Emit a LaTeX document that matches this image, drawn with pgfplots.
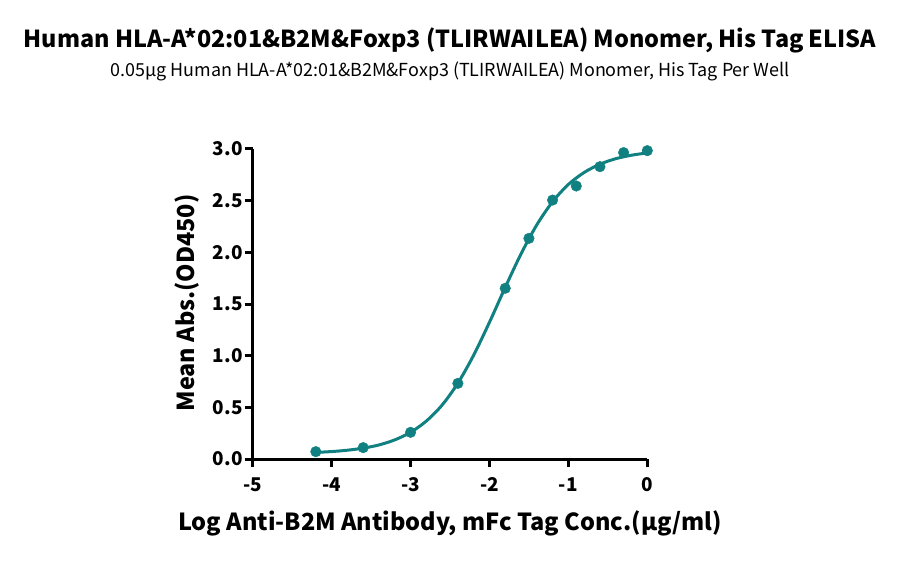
\documentclass[border=0pt]{standalone}
\usepackage{fontspec}
\setmainfont{Noto Sans CJK SC}
\usepackage{pgfplots}
\pgfplotsset{compat=1.18}
\definecolor{teal1}{RGB}{17,128,129}

\begin{document}
\begin{tikzpicture}
  \path[use as bounding box] (-252.7bp,-103bp) rectangle (647.3bp,459bp);
  \begin{axis}[
      at={(0,0)}, anchor=south west,
      scale only axis,
      width=394.6bp, height=310bp,
      xmin=-5, xmax=0, ymin=0, ymax=3,
      axis lines=left,
      axis line style={line width=3bp, -},
      xtick={-5,-4,...,0},
      ytick={0,0.5,...,3},
      yticklabel style={/pgf/number format/fixed, /pgf/number format/fixed zerofill,
        /pgf/number format/precision=1, xshift=1.5bp},
      tick style={line width=3bp, black},
      major tick length=8bp,
      tick align=outside,
      clip=false,
      /pgf/number format/assume math mode=true,
      ticklabel style={font=\fontsize{19}{22}\selectfont\bfseries},
      xticklabel style={yshift=-7bp},
    ]
    % fitted curve
    \addplot[teal1, line width=3bp, smooth] coordinates {
      (-4.22,0.063) (-4.0,0.072) (-3.8,0.085) (-3.6,0.105) (-3.4,0.136)
      (-3.2,0.185) (-3.0,0.258) (-2.8,0.367) (-2.6,0.522) (-2.4,0.734)
      (-2.2,1.005) (-2.0,1.323) (-1.8,1.661) (-1.6,1.985) (-1.4,2.266)
      (-1.2,2.490) (-1.0,2.657) (-0.8,2.773) (-0.6,2.853) (-0.4,2.906)
      (-0.2,2.940) (0,2.962)
    };
    % measured points
    \addplot[only marks, mark=*, mark size=5.3bp, teal1] coordinates {
      (-4.2,0.071) (-3.6,0.11) (-3.0,0.258) (-2.4,0.732) (-1.8,1.652)
      (-1.5,2.135) (-1.2,2.506) (-0.9,2.642) (-0.6,2.829) (-0.3,2.965)
      (0,2.984)
    };
  \end{axis}
  \node[font=\fontsize{23.5}{28}\selectfont\bfseries] at (197.3bp,419bp) {Human HLA-A*02:01\&B2M\&Foxp3 (TLIRWAILEA) Monomer, His Tag ELISA};
  \node[font=\fontsize{18}{21}\selectfont] at (197.3bp,388bp) {0.05µg Human HLA-A*02:01\&B2M\&Foxp3 (TLIRWAILEA) Monomer, His Tag Per Well};
  \node[font=\fontsize{23.6}{28}\selectfont\bfseries] at (197.3bp,-64bp) {Log Anti-B2M Antibody, mFc Tag Conc.(µg/ml)};
  \node[font=\fontsize{23.5}{28}\selectfont\bfseries, rotate=90] at (-65.7bp,156bp) {Mean Abs.(OD450)};
\end{tikzpicture}
\end{document}
